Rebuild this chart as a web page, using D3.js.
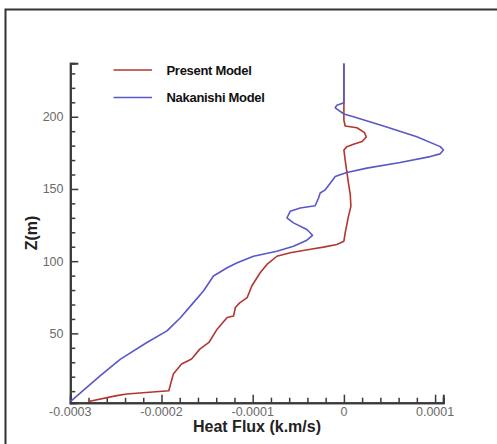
<!DOCTYPE html>
<html>
<head>
<meta charset="utf-8">
<style>
  body { margin: 0; background: #fff; }
  svg { display: block; font-family: Arial, "Liberation Sans", sans-serif; }
</style>
</head>
<body>
<svg width="497" height="444"></svg>
<script src="https://unpkg.com/d3@7/dist/d3.min.js"></script>
<script>
// heat flux (k.m/s) against height Z (m)
const presentFlux = [-0.000280, -0.000249, -0.000238, -0.000192, -0.000190, -0.000187, -0.000178, -0.000167,
  -0.000158, -0.000148, -0.000139, -0.000128, -0.000121, -0.000119, -0.000114, -0.000106, -0.000101,
  -0.0000918, -0.0000844, -0.0000735, -0.0000589, -0.0000333, -0.0000224, -0.0000077, 0, 0.0000014,
  0.000005, 0.0000077, 0.000007, 0.000005, 0.0000014, 0, 0.0000033, 0.0000105, 0.000020, 0.0000245,
  0.0000226, 0.0000143, 0.0000014, 0, 0];
const presentZ = [2.8, 6.9, 8, 10.3, 15, 21.9, 28.8, 32.2, 39.1, 43.7, 52.9, 61, 62, 67.9, 71.3, 74.8, 82.8,
  92, 97.7, 103.4, 105.8, 108.6, 109.7, 111.5, 113.8, 119.6, 131, 137.9, 146, 154, 170, 177, 179.3, 181,
  182.8, 186, 189, 192.4, 193.6, 197.7, 236.8];

const nakanishiFlux = [-0.000300, -0.000267, -0.000245, -0.000216, -0.000194, -0.000179, -0.000165, -0.000154,
  -0.000143, -0.000128, -0.000117, -0.0000991, -0.0000735, -0.0000553, -0.0000406, -0.0000344, -0.0000406,
  -0.0000553, -0.0000625, -0.0000589, -0.0000479, -0.0000315, -0.0000278, -0.000026, -0.0000205, -0.000015,
  -0.0000095, -0.0000041, 0.0000033, 0.0000252, 0.0000617, 0.0000946, 0.0001056, 0.0001092, 0.0001056,
  0.00008, 0.0000434, 0.0000105, 0, -0.0000095, -0.0000077, 0, 0];
const nakanishiZ = [2.8, 20.7, 32.2, 43.7, 51.7, 61, 71.3, 79.3, 89.7, 95.4, 98.9, 103.4, 106.9, 110.3, 114.5,
  117.9, 121.9, 126.5, 129.9, 134.5, 136.8, 138.4, 143.7, 147.2, 149.4, 154, 158.6, 159.8, 161.4, 164.4,
  168.3, 172.4, 174.3, 177, 179.3, 186.2, 193.6, 200, 201.9, 206.2, 208, 209.7, 236.8];

const seriesNames = ['Present Model', 'Nakanishi Model'];
const seriesColors = ['#b3362f', '#5858c8'];

const xMajorTicks = [-0.0003, -0.0002, -0.0001, 0, 0.0001];
const xTickLabels = ['-0.0003', '-0.0002', '-0.0001', '0', '0.0001'];
const yMajorTicks = [50, 100, 150, 200];

const svg = d3.select('svg');

// frame round the picture
svg.append('path')
  .attr('d', 'M5.5,444 V9.5 H497')
  .attr('fill', 'none')
  .attr('stroke', '#333')
  .attr('stroke-width', 2);

const x = d3.scaleLinear().domain([-0.0003, 0.000109]).range([70.3, 443.3]);
const y = d3.scaleLinear().domain([2, 237]).range([402.7, 63.3]);

const axisColor = '#3a3a3a';

// x axis, ticks pointing up into the plot
const xMinor = d3.range(-0.0003, 0.00011, 0.00002).filter(v => !xMajorTicks.some(m => Math.abs(m - v) < 1e-9));
const xAxisMajor = d3.axisTop(x).tickValues(xMajorTicks).tickSize(8).tickFormat('');
const xAxisMinor = d3.axisTop(x).tickValues(xMinor).tickSize(5).tickFormat('');

const gx = svg.append('g').attr('transform', `translate(0,${y.range()[0]})`);
gx.append('g').call(xAxisMinor);
gx.append('g').call(xAxisMajor);
gx.selectAll('.domain').attr('stroke', axisColor).attr('stroke-width', 2);
gx.selectAll('.tick line').attr('stroke', axisColor).attr('stroke-width', 1.5);

svg.append('g').selectAll('text')
  .data(xMajorTicks)
  .join('text')
  .attr('x', d => x(d))
  .attr('y', 415.5)
  .attr('text-anchor', 'middle')
  .attr('font-size', 12.5)
  .attr('fill', '#6a6a6a')
  .text((d, i) => xTickLabels[i]);

// y axis, ticks pointing right into the plot
const yMinor = d3.range(10, 240, 10).filter(v => !yMajorTicks.includes(v));
const yAxisMajor = d3.axisRight(y).tickValues(yMajorTicks).tickSize(8).tickFormat('');
const yAxisMinor = d3.axisRight(y).tickValues(yMinor).tickSize(5).tickFormat('');

const gy = svg.append('g').attr('transform', `translate(${x.range()[0]},0)`);
gy.append('g').call(yAxisMinor);
gy.append('g').call(yAxisMajor);
gy.selectAll('.domain').attr('stroke', axisColor).attr('stroke-width', 2);
gy.selectAll('.tick line').attr('stroke', axisColor).attr('stroke-width', 1.5);

svg.append('g').selectAll('text')
  .data(yMajorTicks)
  .join('text')
  .attr('x', 63.5)
  .attr('y', d => y(d))
  .attr('dy', '0.35em')
  .attr('text-anchor', 'end')
  .attr('font-size', 12.5)
  .attr('fill', '#6a6a6a')
  .text(d => d);

// axis titles
svg.append('text')
  .attr('x', 257)
  .attr('y', 432)
  .attr('text-anchor', 'middle')
  .attr('font-size', 16)
  .attr('font-weight', 'bold')
  .attr('fill', '#222')
  .text('Heat Flux (k.m/s)');

svg.append('text')
  .attr('transform', 'translate(37,233) rotate(-90)')
  .attr('text-anchor', 'middle')
  .attr('font-size', 16)
  .attr('font-weight', 'bold')
  .attr('fill', '#222')
  .text('Z(m)');

// curves
const line = d3.line()
  .x(d => x(d[0]))
  .y(d => y(d[1]));

const series = [
  d3.zip(presentFlux, presentZ),
  d3.zip(nakanishiFlux, nakanishiZ)
];

svg.append('g').selectAll('path')
  .data(series)
  .join('path')
  .attr('d', line)
  .attr('fill', 'none')
  .attr('stroke', (d, i) => seriesColors[i])
  .attr('stroke-width', 1.6)
  .attr('stroke-linejoin', 'round');

// legend
const legend = svg.append('g').selectAll('g')
  .data(seriesNames)
  .join('g')
  .attr('transform', (d, i) => `translate(0,${70 + i * 27.5})`);

legend.append('line')
  .attr('x1', 113.5).attr('x2', 152)
  .attr('y1', 0).attr('y2', 0)
  .attr('stroke', (d, i) => seriesColors[i])
  .attr('stroke-width', 1.6);

legend.append('text')
  .attr('x', 166.5)
  .attr('y', 0)
  .attr('dy', '0.35em')
  .attr('font-size', 13)
  .attr('font-weight', 'bold')
  .attr('fill', '#111')
  .attr('letter-spacing', -0.3)
  .text(d => d);
</script>
</body>
</html>
